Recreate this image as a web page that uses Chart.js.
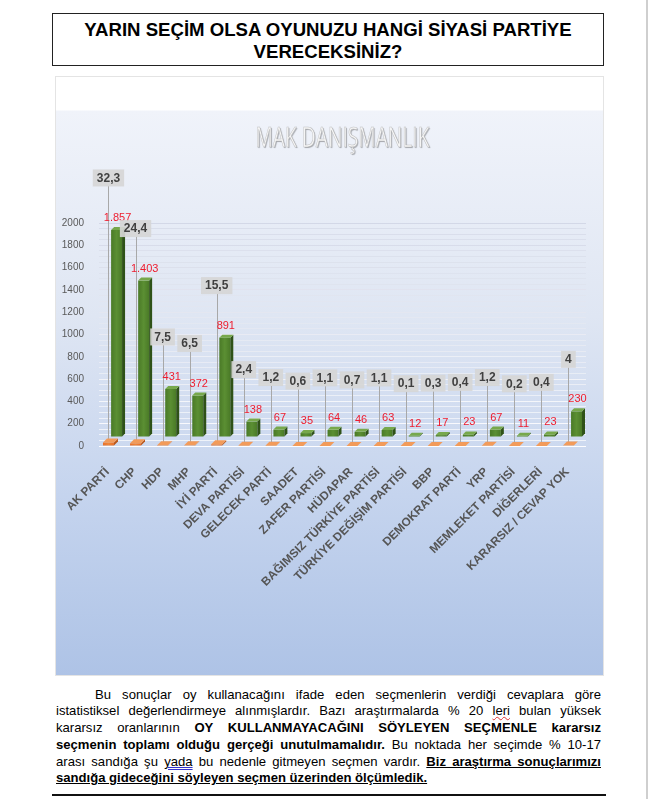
<!DOCTYPE html>
<html>
<head>
<meta charset="utf-8">
<script src="https://cdn.jsdelivr.net/npm/chart.js@4.4.0/dist/chart.umd.min.js"></script>
<style>
  html, body { margin: 0; padding: 0; background: #fff; }
  body { width: 650px; height: 799px; position: relative; overflow: hidden; font-family: "Liberation Sans", Arial, sans-serif; color: #000; }
  #title { position: absolute; left: 52px; top: 13px; width: 550px; height: 46.5px; padding-top: 4.5px; border: 1.5px solid #222; text-align: center; font-weight: bold; font-size: 18.6px; line-height: 22px; }
  #panel { position: absolute; left: 55px; top: 76px; width: 547px; height: 598px; border: 1.5px solid #e4e4e4;
    background: linear-gradient(to bottom, #ffffff 0px, #ffffff 33px, #f0f3fa 34px, #dfe6f3 40%, #c5d4ee 70%, #aec3e6 100%); }
  #wrap { position: absolute; left: 57px; top: 78px; width: 546px; height: 596px; }
  #text { position: absolute; left: 56px; top: 686.5px; width: 545px; font-size: 13.1px; line-height: 16.8px; }
  .ln { text-align: justify; text-align-last: justify; }
  .ln.first { text-indent: 39px; }
  .ln.last { text-align-last: left; }
  .sp { text-decoration: underline wavy #d33; text-decoration-thickness: 1px; }
  .sp2 { text-decoration: underline double #33c; text-decoration-thickness: 1px; }
  #rule { position: absolute; left: 52px; top: 794px; width: 554px; height: 1.5px; background: #111; }
  #edge { position: absolute; left: 646px; top: 0; width: 1.5px; height: 799px; background: #cfcfcf; }
</style>
</head>
<body>
<div id="title">YARIN SEÇİM OLSA OYUNUZU HANGİ SİYASİ PARTİYE<br>VERECEKSİNİZ?</div>
<div id="panel"></div>
<div id="wrap"><canvas id="c" width="546" height="596"></canvas></div>
<div id="text">
  <div class="ln first">Bu sonuçlar oy kullanacağını ifade eden seçmenlerin verdiği cevaplara göre</div>
  <div class="ln">istatistiksel değerlendirmeye alınmışlardır. Bazı araştırmalarda % 20 <span class="sp">leri</span> bulan yüksek</div>
  <div class="ln">kararsız oranlarının <b>OY KULLANMAYACAĞINI SÖYLEYEN SEÇMENLE kararsız</b></div>
  <div class="ln"><b>seçmenin toplamı olduğu gerçeği unutulmamalıdır.</b> Bu noktada her seçimde % 10-17</div>
  <div class="ln">arası sandığa şu <span class="sp2">yada</span> bu nedenle gitmeyen seçmen vardır. <b><u>Biz araştırma sonuçlarımızı</u></b></div>
  <div class="ln last"><b><u>sandığa gideceğini söyleyen seçmen üzerinden ölçümledik.</u></b></div>
</div>
<div id="rule"></div>
<div id="edge"></div>
<script>
// ---- data ----
const categories = ['AK PARTİ', 'CHP', 'HDP', 'MHP', 'İYİ PARTİ', 'DEVA PARTİSİ', 'GELECEK PARTİ', 'SAADET',
  'ZAFER PARTİSİ', 'HÜDAPAR', 'BAĞIMSIZ TÜRKİYE PARTİSİ', 'TÜRKİYE DEĞİŞİM PARTİSİ', 'BBP', 'DEMOKRAT PARTİ',
  'YRP', 'MEMLEKET PARTİSİ', 'DİĞERLERİ', 'KARARSIZ / CEVAP YOK'];
const voteCounts = [1857, 1403, 431, 372, 891, 138, 67, 35, 64, 46, 63, 12, 17, 23, 67, 11, 23, 230];
const votePercents = [32.3, 24.4, 7.5, 6.5, 15.5, 2.4, 1.2, 0.6, 1.1, 0.7, 1.1, 0.1, 0.3, 0.4, 1.2, 0.2, 0.4, 4];
const yTickLabels = [0, 200, 400, 600, 800, 1000, 1200, 1400, 1600, 1800, 2000];
const watermarkText = 'MAK DANIŞMANLIK';

const FONT = '"Liberation Sans", Arial, sans-serif';
Chart.defaults.font.family = FONT;

const fmtCount = n => String(n).replace(/\B(?=(\d{3})+(?!\d))/g, '.');
const fmtPct = v => String(v).replace('.', ',');

function prism(ctx, x, top, base, w, d, front, side, topc) {
  const l = x - w / 2, r = x + w / 2;
  if (base - top > 0.2) {
    const g = ctx.createLinearGradient(l, 0, r, 0);
    g.addColorStop(0, front[0]); g.addColorStop(0.5, front[1]); g.addColorStop(1, front[0]);
    ctx.fillStyle = g;
    ctx.fillRect(l, top, w, base - top);
    ctx.fillStyle = side;
    ctx.beginPath();
    ctx.moveTo(r, top); ctx.lineTo(r + d, top - d); ctx.lineTo(r + d, base - d); ctx.lineTo(r, base);
    ctx.closePath(); ctx.fill();
  }
  ctx.fillStyle = topc;
  ctx.beginPath();
  ctx.moveTo(l, top); ctx.lineTo(l + d, top - d); ctx.lineTo(r + d, top - d); ctx.lineTo(r, top);
  ctx.closePath(); ctx.fill();
}

const DEPTH = 3, LIFT = 9, BOX_GAP = 40;

const draw3d = {
  id: 'draw3d',
  beforeDatasetsDraw(chart) {
    const ctx = chart.ctx, ca = chart.chartArea;
    ctx.save();
    ctx.font = '27px "Open Sans", ' + FONT;
    const w = ctx.measureText(watermarkText).width;
    const sx = 174 / w;
    const cx = (ca.left + ca.right) / 2;
    ctx.translate(cx, 69);
    ctx.scale(sx, 1);
    ctx.textAlign = 'center';
    ctx.textBaseline = 'alphabetic';
    ctx.shadowColor = 'rgba(0,0,0,0.3)';
    ctx.shadowOffsetX = 1; ctx.shadowOffsetY = 1; ctx.shadowBlur = 1;
    ctx.fillStyle = '#f5f5f5';
    ctx.fillText(watermarkText, 0, 0);
    ctx.shadowColor = 'transparent';
    ctx.strokeStyle = 'rgba(160,160,160,0.6)';
    ctx.lineWidth = 0.6;
    ctx.strokeText(watermarkText, 0, 0);
    ctx.restore();
  },
  afterDatasetsDraw(chart) {
    const ctx = chart.ctx;
    const mp = chart.getDatasetMeta(0).data;
    const mc = chart.getDatasetMeta(1).data;
    ctx.save();
    const items = mc.map((el, i) => {
      const top = el.y - LIFT;
      const countY = top - DEPTH - 9;
      return { i, gx: el.x, top, base: el.base - LIFT, w: el.width, countY, boxY: countY - BOX_GAP,
        ox: mp[i].x, oy: mp[i].y, obase: mp[i].base, ow: mp[i].width };
    });
    // leader lines
    ctx.strokeStyle = '#a8a8a8'; ctx.lineWidth = 1;
    items.forEach(it => {
      const x = Math.round(it.ox) + 0.5;
      ctx.beginPath(); ctx.moveTo(x, it.boxY + 8); ctx.lineTo(x, it.oy - 3); ctx.stroke();
    });
    // green (back row)
    items.forEach(it => prism(ctx, it.gx, it.top, it.base, it.w, DEPTH, ['#4a7a27', '#5b8f33'], '#2f5218', '#77a84c'));
    // orange (front row)
    items.forEach(it => prism(ctx, it.ox, it.oy, it.obase, it.ow, 4, ['#e8702a', '#f08538'], '#b8561a', '#f29b5a'));
    // count labels
    ctx.font = '11px ' + FONT;
    ctx.fillStyle = '#ee1c2e';
    ctx.textAlign = 'center'; ctx.textBaseline = 'middle';
    items.forEach(it => ctx.fillText(fmtCount(voteCounts[it.i]), it.gx + 1, it.countY));
    // percent boxes
    ctx.font = 'bold 12px ' + FONT;
    items.forEach(it => {
      const t = fmtPct(votePercents[it.i]);
      const tw = ctx.measureText(t).width;
      const bw = tw + 8, bh = 17;
      ctx.fillStyle = 'rgba(214,214,214,0.92)';
      ctx.fillRect(it.ox - bw / 2, it.boxY - bh / 2, bw, bh);
      ctx.fillStyle = '#404040';
      ctx.fillText(t, it.ox, it.boxY + 0.5);
    });
    ctx.restore();
  }
};

function gridColor(c) {
  const v = c.tick ? c.tick.value : 0;
  const t = Math.min(1, v / 2000);
  const r = Math.round(255 - 45 * t), g = Math.round(255 - 40 * t), b = Math.round(255 - 25 * t);
  const a = (v % 200 === 0) ? 0.95 : 0.7;
  return `rgba(${r},${g},${b},${a})`;
}

new Chart(document.getElementById('c'), {
  type: 'bar',
  data: {
    labels: categories,
    datasets: [
      { label: '%', data: votePercents, backgroundColor: 'rgba(0,0,0,0)', borderWidth: 0, categoryPercentage: 0.6, barPercentage: 1.35 },
      { label: 'Kişi', data: voteCounts, backgroundColor: 'rgba(0,0,0,0)', borderWidth: 0, categoryPercentage: 0.6, barPercentage: 1.35 }
    ]
  },
  options: {
    responsive: false,
    animation: false,
    layout: { padding: { top: 145, right: 17, left: 0, bottom: 0 } },
    plugins: { legend: { display: false }, tooltip: { enabled: false }, title: { display: false } },
    scales: {
      x: {
        grid: { display: false },
        border: { display: false },
        ticks: { minRotation: 45, maxRotation: 45, autoSkip: false, padding: 11, labelOffset: -5,
          color: '#555555', font: { size: 11.8, weight: 'bold' } },
        afterFit(s) { s.height = 228; }
      },
      y: {
        min: 0, max: 2000,
        border: { display: false },
        grid: { drawTicks: false, color: gridColor, lineWidth: 1 },
        ticks: { stepSize: 50, autoSkip: false, padding: 15, color: '#595959', font: { size: 10 },
          callback: v => yTickLabels.includes(v) ? String(v) : '' },
        afterFit(s) { s.width = 42; }
      }
    }
  },
  plugins: [draw3d]
});
</script>
</body>
</html>
